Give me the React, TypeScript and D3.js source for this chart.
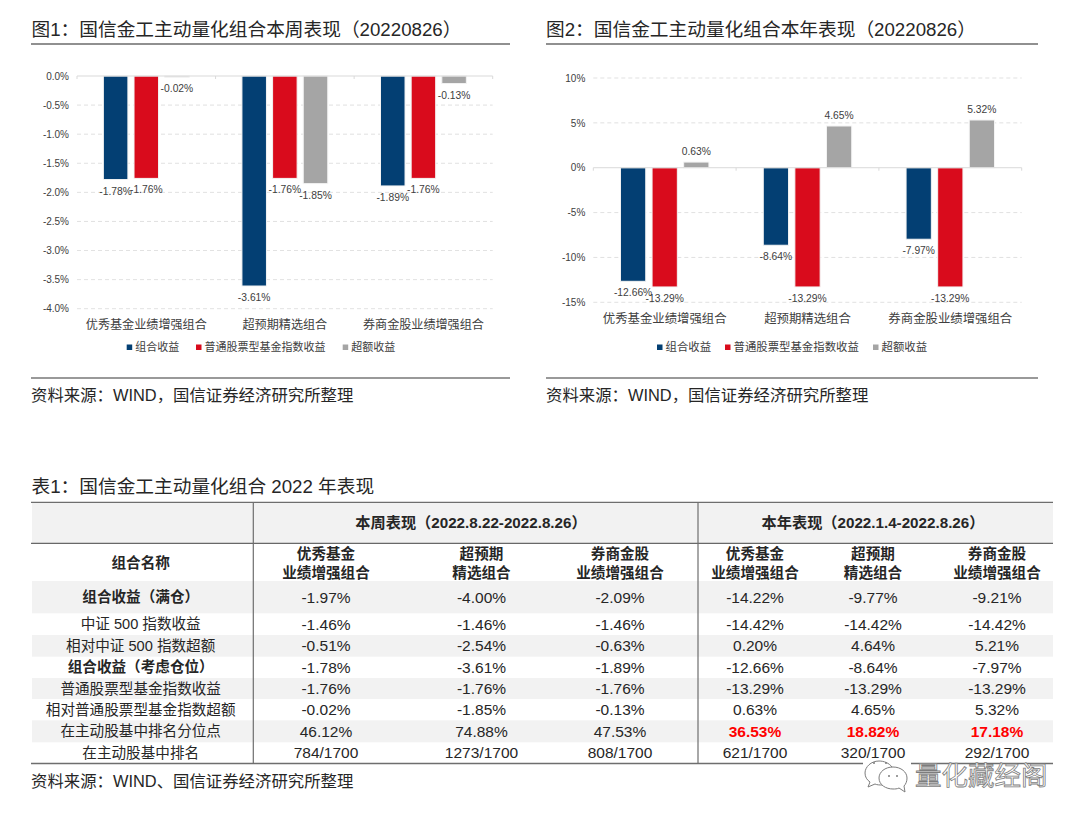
import { useEffect, useRef } from "react";
import * as d3 from "d3";

const FONT = '"Liberation Sans", "Noto Sans CJK SC", sans-serif';

const categories = ["优秀基金业绩增强组合", "超预期精选组合", "券商金股业绩增强组合"];
const seriesNames = ["组合收益", "普通股票型基金指数收益", "超额收益"];
const seriesColors = ["#033f73", "#d90b1c", "#a5a5a5"];

const weekPortfolio = [-1.78, -3.61, -1.89];
const weekIndex = [-1.76, -1.76, -1.76];
const weekExcess = [-0.02, -1.85, -0.13];
const weekTicks = [0, -0.5, -1, -1.5, -2, -2.5, -3, -3.5, -4];

const yearPortfolio = [-12.66, -8.64, -7.97];
const yearIndex = [-13.29, -13.29, -13.29];
const yearExcess = [0.63, 4.65, 5.32];
const yearTicks = [10, 5, 0, -5, -10, -15];

const tableGroups = ["本周表现（2022.8.22-2022.8.26）", "本年表现（2022.1.4-2022.8.26）"];
const columnHeads = [
  ["优秀基金", "业绩增强组合"],
  ["超预期", "精选组合"],
  ["券商金股", "业绩增强组合"],
  ["优秀基金", "业绩增强组合"],
  ["超预期", "精选组合"],
  ["券商金股", "业绩增强组合"],
];
const rowLabels = [
  "组合收益（满仓）",
  "中证 500 指数收益",
  "相对中证 500 指数超额",
  "组合收益（考虑仓位）",
  "普通股票型基金指数收益",
  "相对普通股票型基金指数超额",
  "在主动股基中排名分位点",
  "在主动股基中排名",
];
const boldRows = [0, 3];
const rowValues = [
  ["-1.97%", "-4.00%", "-2.09%", "-14.22%", "-9.77%", "-9.21%"],
  ["-1.46%", "-1.46%", "-1.46%", "-14.42%", "-14.42%", "-14.42%"],
  ["-0.51%", "-2.54%", "-0.63%", "0.20%", "4.64%", "5.21%"],
  ["-1.78%", "-3.61%", "-1.89%", "-12.66%", "-8.64%", "-7.97%"],
  ["-1.76%", "-1.76%", "-1.76%", "-13.29%", "-13.29%", "-13.29%"],
  ["-0.02%", "-1.85%", "-0.13%", "0.63%", "4.65%", "5.32%"],
  ["46.12%", "74.88%", "47.53%", "36.53%", "18.82%", "17.18%"],
  ["784/1700", "1273/1700", "808/1700", "621/1700", "320/1700", "292/1700"],
];
const redRow = 6;
const redColumns = [3, 4, 5];

// table geometry
const rowEdges = [581, 613.3, 635, 656.7, 678, 699, 720.3, 742.3, 763.5];
const columnCenters = [326, 481.5, 620, 755, 873, 997];
const shadedRows = [0, 2, 4, 6];

type ChartProps = {
  series: number[][];
  ticks: number[];
  domain: [number, number];
  decimals: number;
  left: number;
  right: number;
  top: number;
  bottom: number;
  categoryY: number;
  categorySize: number;
  legendX: number[];
  legendSize: number;
};

function BarChart({
  series,
  ticks,
  domain,
  decimals,
  left,
  right,
  top,
  bottom,
  categoryY,
  categorySize,
  legendX,
  legendSize,
}: ChartProps) {
  const ref = useRef<SVGGElement | null>(null);

  useEffect(() => {
    const g = d3.select(ref.current);
    g.selectAll("*").remove();

    const x0 = d3.scaleBand<string>().domain(categories).range([left, right]);
    const x1 = d3
      .scaleBand<string>()
      .domain(seriesNames)
      .range([0, x0.bandwidth()])
      .paddingInner(0.2)
      .paddingOuter(0.86);
    const y = d3.scaleLinear().domain(domain).range([bottom, top]);

    // dashed grid, zero line is drawn solid afterwards
    g.append("g")
      .selectAll("line")
      .data(ticks.filter((t) => t !== 0))
      .join("line")
      .attr("x1", left)
      .attr("x2", right)
      .attr("y1", (d) => y(d))
      .attr("y2", (d) => y(d))
      .attr("stroke", "#d9d9d9")
      .attr("stroke-width", 0.8)
      .attr("stroke-dasharray", "4 3");

    const yAxis = g
      .append("g")
      .attr("transform", `translate(${left},0)`)
      .call(
        d3
          .axisLeft(y)
          .tickValues(ticks)
          .tickSize(0)
          .tickPadding(8)
          .tickFormat((d) => `${(d as number).toFixed(decimals)}%`)
      );
    yAxis.select(".domain").remove();
    yAxis.selectAll("text").attr("font-size", 10).attr("font-family", FONT).attr("fill", "#404040");

    // bars with a thin white edge, which also cuts the grid around them
    seriesNames.forEach((name, i) => {
      g.append("g")
        .selectAll("rect")
        .data(series[i])
        .join("rect")
        .attr("x", (_, k) => x0(categories[k])! + x1(name)!)
        .attr("width", x1.bandwidth())
        .attr("y", (d) => y(Math.max(d, 0)))
        .attr("height", (d) => Math.abs(y(d) - y(0)))
        .attr("fill", seriesColors[i])
        .attr("stroke", "#f4f4f4")
        .attr("stroke-width", 1);
    });

    // zero line with category ticks
    g.append("line")
      .attr("x1", left)
      .attr("x2", right)
      .attr("y1", y(0))
      .attr("y2", y(0))
      .attr("stroke", "#d9d9d9");
    g.append("g")
      .selectAll("line")
      .data([...categories.map((c) => x0(c)!), right])
      .join("line")
      .attr("x1", (d) => d)
      .attr("x2", (d) => d)
      .attr("y1", y(0))
      .attr("y2", y(0) + 3)
      .attr("stroke", "#d9d9d9");

    // value labels
    seriesNames.forEach((name, i) => {
      g.append("g")
        .selectAll("text")
        .data(series[i])
        .join("text")
        .attr("x", (_, k) => x0(categories[k])! + x1(name)! + x1.bandwidth() / 2)
        .attr("y", (d) => y(d) + (d < 0 ? 11.5 : -11))
        .attr("dy", "0.35em")
        .attr("text-anchor", "middle")
        .attr("font-size", 10.3)
        .attr("font-family", FONT)
        .attr("fill", "#404040")
        .text((d) => `${d.toFixed(2)}%`);
    });

    const xAxis = g
      .append("g")
      .attr("transform", `translate(0,${categoryY})`)
      .call(d3.axisBottom(x0).tickSize(0).tickPadding(0));
    xAxis.select(".domain").remove();
    xAxis.selectAll("text").attr("font-size", categorySize).attr("font-family", FONT).attr("fill", "#404040");

    // legend
    const legend = g.append("g");
    seriesNames.forEach((name, i) => {
      legend
        .append("rect")
        .attr("x", legendX[i])
        .attr("y", 344.5)
        .attr("width", 5.5)
        .attr("height", 5.5)
        .attr("fill", seriesColors[i]);
      legend
        .append("text")
        .attr("x", legendX[i] + 8.5)
        .attr("y", 347.2)
        .attr("dy", "0.35em")
        .attr("font-size", legendSize)
        .attr("font-family", FONT)
        .attr("fill", "#404040")
        .text(name);
    });
  }, [series, ticks, domain, decimals, left, right, top, bottom, categoryY, categorySize, legendX, legendSize]);

  return <g ref={ref} />;
}

function Table() {
  const grey = "#f2f2f2";
  const ink = "#262626";
  const line = "#6e6e6e";
  const tableBottom = rowEdges[rowEdges.length - 1];
  const midRow = (i: number) => (rowEdges[i] + rowEdges[i + 1]) / 2;
  return (
    <g fontFamily={FONT} textAnchor="middle" dominantBaseline="central" fill={ink}>
      <rect x={32} y={502.3} width={1021} height={41} fill={grey} />
      {shadedRows.map((r) => (
        <rect key={r} x={32} y={rowEdges[r]} width={1021} height={rowEdges[r + 1] - rowEdges[r]} fill={grey} />
      ))}
      <line x1={31} x2={1053} y1={502.3} y2={502.3} stroke={line} strokeWidth={1.2} />
      <line x1={31} x2={1053} y1={543.3} y2={543.3} stroke="#444" strokeWidth={1} />
      <line x1={31} x2={1053} y1={tableBottom} y2={tableBottom} stroke={line} strokeWidth={1.4} />
      <line x1={253.3} x2={253.3} y1={502.3} y2={tableBottom} stroke={line} strokeWidth={1.2} />
      <line x1={698} x2={698} y1={502.3} y2={tableBottom} stroke={line} strokeWidth={1.2} />

      <text x={471} y={522.7} fontSize={15.2} fontWeight="bold">{tableGroups[0]}</text>
      <text x={873} y={522.7} fontSize={15.2} fontWeight="bold">{tableGroups[1]}</text>
      <text x={140.7} y={563} fontSize={14.6} fontWeight="bold">组合名称</text>
      {columnHeads.map((head, c) =>
        head.map((t, k) => (
          <text key={`${c}-${k}`} x={columnCenters[c]} y={554 + k * 18.7} fontSize={14.6} fontWeight="bold">{t}</text>
        ))
      )}
      {rowLabels.map((label, r) => (
        <text key={label} x={140.7} y={midRow(r)} fontSize={14.6} fontWeight={boldRows.includes(r) ? "bold" : "normal"}>
          {label}
        </text>
      ))}
      {rowValues.map((vals, r) =>
        vals.map((v, c) => {
          const red = r === redRow && redColumns.includes(c);
          return (
            <text
              key={`${r}-${c}`}
              x={columnCenters[c]}
              y={midRow(r)}
              fontSize={15.5}
              fontWeight={red ? "bold" : "normal"}
              fill={red ? "#ff0000" : ink}
            >
              {v}
            </text>
          );
        })
      )}
    </g>
  );
}

function Watermark() {
  const c = "#7d7d7d";
  return (
    <g>
      <rect x={863} y={760} width={48} height={8} fill="#fff" />
      <g fill="#fff" stroke={c} strokeWidth={1}>
        <path d="M 879 761 C 871 761 865 767 865 773 C 865 777 867 780 870 782 L 868 787 L 875 784 C 877 785 880 785 883 785 L 892 767 C 889 763 884 761 879 761 Z" />
        <path d="M 893 767 C 885 767 879 772 879 778 C 879 785 886 789 893 789 C 895 789 897 789 899 788 L 905 792 L 904 786 C 906 784 907 781 907 778 C 907 772 901 767 893 767 Z" />
      </g>
      <g fill={c}>
        <circle cx={874} cy={763} r={1} />
        <circle cx={886} cy={763} r={1} />
        <circle cx={889} cy={776} r={1} />
        <circle cx={897} cy={776} r={1} />
      </g>
      <text x={915} y={785} fontSize={26.5} fontFamily={FONT} fill="#fff" stroke={c} strokeWidth={0.8}>
        量化藏经阁
      </text>
    </g>
  );
}

export default function App() {
  return (
    <svg width={1080} height={823} style={{ position: "absolute", top: 0, left: 0, background: "#fff" }}>
      <g fontFamily={FONT} fill="#262626">
        <text x={31.5} y={35.5} fontSize={18.7}>图1：国信金工主动量化组合本周表现（20220826）</text>
        <text x={546} y={35.5} fontSize={18.7}>图2：国信金工主动量化组合本年表现（20220826）</text>
        <text x={31} y={401} fontSize={16.4}>资料来源：WIND，国信证券经济研究所整理</text>
        <text x={546} y={401} fontSize={16.4}>资料来源：WIND，国信证券经济研究所整理</text>
        <text x={31.5} y={493} fontSize={18.7}>表1：国信金工主动量化组合 2022 年表现</text>
        <text x={31} y={787} fontSize={16.4}>资料来源：WIND、国信证券经济研究所整理</text>
      </g>
      <line x1={31} x2={510} y1={44} y2={44} stroke="#222" strokeWidth={1.2} />
      <line x1={546} x2={1038} y1={44} y2={44} stroke="#222" strokeWidth={1.2} />
      <line x1={31} x2={510} y1={378} y2={378} stroke="#777" strokeWidth={1.4} />
      <line x1={546} x2={1038} y1={378} y2={378} stroke="#777" strokeWidth={1.4} />

      <BarChart
        series={[weekPortfolio, weekIndex, weekExcess]}
        ticks={weekTicks}
        domain={[-4, 0]}
        decimals={1}
        left={77}
        right={492.7}
        top={76}
        bottom={308.7}
        categoryY={320}
        categorySize={12.1}
        legendX={[126.7, 196, 342.7]}
        legendSize={11}
      />
      <BarChart
        series={[yearPortfolio, yearIndex, yearExcess]}
        ticks={yearTicks}
        domain={[-15, 10]}
        decimals={0}
        left={593.3}
        right={1021.7}
        top={78}
        bottom={302.3}
        categoryY={314}
        categorySize={12.4}
        legendX={[657, 725, 873]}
        legendSize={11.4}
      />
      <Table />
      <Watermark />
    </svg>
  );
}
